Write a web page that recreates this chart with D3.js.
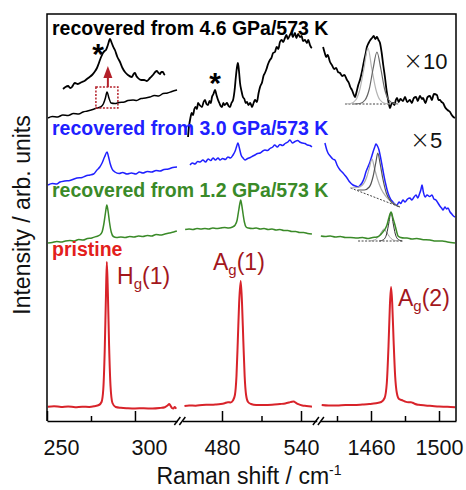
<!DOCTYPE html>
<html>
<head>
<meta charset="utf-8">
<script src="https://d3js.org/d3.v7.min.js"></script>
<style>
  body { margin: 0; background: #fff; }
  svg text { font-family: "Liberation Sans", Arial, sans-serif; }
</style>
</head>
<body>
<svg width="466" height="490"></svg>
<script>
// --- data: [wavenumber, intensity (arb.)] ---

// pristine
const red1 = [[250.5,14.3],[254,14.8],[258,14],[262,14.5],[266,13.8],[270,14.3],[274,14],[277,14.8],[279.5,16],[281,19],[282,32],[282.8,70],[283.5,125],[284,159],[284.6,128],[285.3,75],[286.1,35],[287.2,18],[289,14],[292,13.2],[296,12.8],[300,12.6],[305,12.7],[310,12.5],[314,13],[317,13.8],[318.5,15.5],[319.5,17],[320.3,15],[321,13],[321.8,12.5],[322.6,14],[323.4,12.3]];
const red2 = [[451.5,15],[455,15.5],[460,15.3],[465,16],[470,16.2],[475,16.5],[479,17],[482,17.8],[484.5,18.8],[486.5,18.5],[488.3,20.5],[489.8,26],[491,45],[492,80],[493,118],[494.2,140],[495.2,118],[496.2,80],[497.2,45],[498.3,26],[499.8,19],[502,17],[506,16],[512,16],[518,16.3],[524,17],[528,17.5],[531,18.5],[533,19.3],[534.5,19.5],[536,18.3],[538,16.8],[541,15.5],[544,15],[548.3,14.3]];
const red3 = [[1431,16],[1435,15.5],[1440,15.5],[1445,16],[1450,16],[1455,16.5],[1459,17],[1463,17.8],[1466,19],[1468,23],[1469.3,38],[1470.3,75],[1471.1,115],[1471.8,134],[1472.5,117],[1473.3,80],[1474.2,45],[1475.2,28],[1476.5,22],[1478,21],[1480,19.5],[1482,18.7],[1483.5,18.8],[1484.5,18.3],[1486,17],[1488,16.2],[1492,15.5],[1496,15],[1500,14.5],[1505,14.2],[1509.5,13.7]];

// recovered from 1.2 GPa
const green1 = [[250.6,178],[253,178.5],[255.5,179.5],[258,179],[260.5,180],[263,180.5],[265.5,180],[268,181.5],[270.5,181],[273,182.5],[275.5,183],[278,184.5],[280,186],[281.3,189],[282.4,198],[283.3,209],[284,216],[284.7,210],[285.5,199],[286.5,189],[287.7,184.5],[289.5,183.5],[292,184],[294.5,183.5],[297,184.5],[299.5,184],[302,185],[304.5,184.5],[307,185.5],[309.5,185],[312,186.5],[314.5,186],[317,187],[319.5,188],[322,189],[323.8,190]];
const green2 = [[452,191.5],[455,192],[458,191.5],[461,192.5],[464,192],[467,192.5],[470,192],[473,193],[476,192.5],[479,193],[482,193.5],[485,193],[488,194],[490,196],[491.5,201],[492.6,210],[493.5,217],[494.2,221],[495,216],[496,207],[497,199],[498.3,194],[500,193],[503,192.5],[506,193],[509,192],[512,192.5],[515,191.5],[518,192],[521,191],[524,191.5],[527,190.5],[530,190.5],[533,189.5],[536,189.5],[539,188.5],[542,188.5],[545,187.5],[548.3,187]];
const green3 = [[1430.5,185],[1433,184.5],[1436,185],[1439,184],[1442,184.5],[1445,183.5],[1448,183.5],[1451.8,183],[1455,183.5],[1458,182.5],[1461,183.5],[1463.5,184],[1465.5,186],[1467,189],[1468.3,192],[1469.4,196],[1470.5,203],[1471.8,209],[1472.9,203],[1474.1,196],[1475,190],[1475.9,185],[1477.5,183.5],[1479.5,183],[1481.2,183],[1484,182],[1487,182.5],[1490,181.5],[1494.7,181],[1498,180],[1502,180],[1505,179],[1509.4,178]];
const greenFitA = [[1459,180],[1462,181],[1464.5,184.5],[1466.2,189],[1467.6,192],[1469,189],[1470.8,184.5],[1473,181],[1476,180]];
const greenFitB = [[1465,180],[1467.5,181.5],[1469.2,187],[1470.5,198],[1471.8,209],[1473,198],[1474.3,187],[1476,181.5],[1478.5,180]];
const greenFitBase = [[1452.4,180],[1478.8,180]];

// recovered from 3.0 GPa (x5)
const blue1 = [[250.6,236],[253,237.5],[255.5,237],[257.4,239],[260,240],[263,240.5],[267,243],[270,243.5],[272,245],[274.4,246],[276.5,247],[278.4,251],[280,254],[281.3,258],[282.7,264],[284.1,269],[285,264],[285.8,258],[287,252],[288.6,249],[291,247.5],[293,248.5],[295.5,247],[298,248],[300.5,247],[302.5,249],[304.5,248],[307,249.5],[309.5,249],[312,250.5],[314.2,250],[316.5,251.5],[319,252],[321.5,253.5],[323.9,254]];
const blue2 = [[455.7,256],[457.5,258],[459.5,257],[461.5,259.5],[463.3,259],[465.5,261],[467.5,259],[469.5,262],[471.5,260.5],[473.2,263],[475,261],[477,263],[478.5,261],[480.5,262.5],[482.5,261.5],[484.5,264],[486.5,263],[488.4,266],[490,270],[491.2,275],[492.1,278],[493.2,273],[494.5,266],[496,263],[497.5,261],[499.5,262.5],[501.5,263.5],[503.5,265],[505,266],[507,267.5],[509,268],[511,270],[512.6,271],[514.5,270.5],[516.5,272.5],[518.5,274],[520,276],[522,274],[524,276.5],[526,275.5],[528,277.5],[530,279],[531.6,281],[533.5,278],[535.5,279.5],[537.5,280.5],[539,279],[541,278],[543,277.5],[545,276],[546.8,275.5],[548.3,274]];
const blue3 = [[1432.9,278],[1434,271],[1434.7,268],[1436,265],[1437.5,262],[1438.8,261],[1440,256],[1441.8,251],[1443,249],[1444.5,246],[1445.9,243],[1447.5,239],[1449.4,236],[1451,235],[1452.4,234],[1453.5,235.5],[1454.7,238],[1456,243],[1457,249],[1458.2,254],[1459.4,259],[1460.5,265],[1461.2,269],[1462.2,274],[1462.9,277],[1463.8,275],[1464.7,271],[1465.8,262],[1467,251],[1468.5,238],[1470,228],[1471.5,222],[1472.9,219],[1474,217],[1475.3,216],[1476.5,219],[1477.5,217.5],[1478.8,221],[1480,219],[1481.5,222],[1482.9,223],[1484,221],[1485.3,224],[1486.5,226],[1487.5,223],[1488.5,227],[1489.3,231],[1490,236],[1490.8,229],[1491.8,224],[1493,226],[1494.5,224.5],[1495.9,226],[1497,222],[1498.2,221],[1499.4,218],[1500.5,215],[1501.5,213],[1502.4,211],[1503.5,214],[1504.5,212],[1505.3,213],[1506.5,209],[1507.5,207],[1508.5,205],[1509.4,204]];
const blueFitA = [[1448,233],[1452,233.5],[1455,236],[1457.5,244],[1459,253],[1460.6,262],[1462,253],[1463.8,242],[1466,232],[1469,224],[1472,219],[1476,215]];
const blueFitB = [[1452,231],[1456,231],[1459,234],[1461.3,245],[1462.8,258],[1464,268],[1465.3,258],[1467,242],[1469,228],[1471.5,220],[1474.5,216],[1477,214]];
const blueFitBase = [[1448,233],[1477,214]];

// recovered from 4.6 GPa (x10)
const black1 = [[250.6,303],[253,304.5],[256,304],[259,306],[262,305.5],[265,307.5],[268,307],[270.5,309],[273,310],[276,311.5],[278.4,313],[280.5,314],[282,317],[283.2,323],[284.1,329],[285.2,323],[286.4,318],[288.6,317.5],[291,318.5],[294,319],[296,320.5],[298.9,321],[301,320.5],[303.5,322.5],[306,323],[308.5,324],[311,325.5],[313.5,325],[316,327.5],[318.5,328],[321,329.5],[323.9,331]];
const blackInset = [[259.1,332],[260.5,334],[262,335],[263.2,333],[264.2,334],[265.2,337],[265.9,338],[267.5,337],[269.9,339],[271.3,340],[272.7,342],[274.2,344],[275.6,346],[277,349],[278.4,353],[279.3,357],[280.1,361],[281,365],[281.8,368],[282.7,370],[283.5,371],[284.6,376],[285.8,382],[286.8,378],[287.7,374],[288.6,371],[290,364],[291.5,359],[292.9,353],[294.3,349],[296,346],[298.3,344],[299.2,347],[300,348],[300.8,345],[301.7,343],[303.5,341],[305.2,341],[306.8,340],[308.5,343],[310.2,346],[311.5,349],[312.5,350],[313.4,348],[314.2,347],[315,349],[315.9,349],[316.5,347],[317,346]];
const black2 = [[454.2,284],[455,295],[456,303],[457,308],[458,306],[459,312],[460,314],[461,312],[461.8,318],[463,316],[464.8,314],[466,319],[467.1,321],[468.2,317],[469.4,316],[470.5,320],[471.5,318],[472.4,324],[473.5,327],[474.7,331],[475.8,326],[477,321],[478,318],[479,315],[480,314],[481,318],[482,316],[483.8,318],[485,315],[486.1,314],[487.2,318],[488.4,321],[489.5,330],[490.6,345],[491.4,354],[492.1,358],[492.9,350],[493.7,338],[494.8,330],[495.9,324],[497,322],[498,318],[499,319],[500,316],[501.5,318],[502.8,314],[504,318],[505.1,321],[506.5,319],[507.8,328],[508.9,334],[510.5,339],[511.5,345],[512.6,348],[513.8,352],[515,357],[516.4,361],[517.5,363],[518.8,368],[520.2,369],[521.5,374],[522.8,372],[524,379],[525.2,381],[526.5,379],[527.8,383],[529,386],[530,382],[531.6,386],[532.7,388],[533.8,384],[535.4,388],[536.5,383],[537.8,387],[539.2,384],[540.5,385],[541.5,380],[543,381],[544.5,378],[545.5,381],[546.8,376],[547.5,374],[548.3,373]];
const black3 = [[1431.8,374],[1432.8,368],[1433.6,364],[1434.5,366],[1435.9,359],[1437,356],[1438.3,352],[1439.5,353],[1440.6,349],[1441.8,348],[1443,345],[1444.3,346],[1445.9,341],[1447,338],[1447.8,334],[1448.8,331],[1449.7,327],[1450.6,324],[1451.5,329],[1452.5,336],[1453.5,341],[1454.5,348],[1455.9,360],[1456.8,367],[1457.6,374],[1458.6,378],[1459.6,381],[1460.6,383],[1461.6,385],[1462.5,382],[1463.5,384],[1464.4,381],[1465.3,378],[1466.3,368],[1467.2,356],[1468.2,344],[1469.2,330],[1470.2,320],[1471.2,313],[1472,317],[1472.9,318],[1473.8,316],[1474.6,321],[1475.3,323],[1476.3,319],[1477.3,322],[1478.8,320],[1480,324],[1481.3,319],[1482.9,321],[1484,318],[1485.2,323],[1486.5,324],[1487.5,320],[1488.8,325],[1490,322],[1490.6,323],[1492,318],[1493.3,324],[1494.7,325],[1495.8,321],[1497,327],[1498.8,326],[1499.7,321],[1500.6,321],[1501.5,319],[1502.4,318],[1503.5,314],[1505,311],[1506.5,309],[1507.5,306],[1508.5,304],[1509.4,303]];
const blackFitA = [[1444.7,317],[1448,317.5],[1451,321],[1453.5,332],[1455.8,352],[1458.2,373],[1460.5,352],[1462.8,332],[1465.3,321],[1468.5,317.5],[1471.5,317]];
const blackFitB = [[1450,317],[1453.5,317.5],[1456.5,321],[1459,332],[1461.2,352],[1463.5,369],[1465.8,352],[1468,332],[1470.5,321],[1473.5,317.5],[1476,317]];
const blackFitBase = [[1444.7,317],[1471.2,317]];

// axis ticks
const major1 = [250, 300], minor1 = [275];
const major2 = [480, 540], minor2 = [510];
const major3 = [1460, 1500], minor3 = [1440, 1480];

// texts
const seriesLabels = ["recovered from 4.6 GPa/573 K", "recovered from 3.0 GPa/573 K", "recovered from 1.2 GPa/573 K", "pristine"];
const factors = ["10", "5"];

// --- drawing ---
const svg = d3.select("svg");
const L = 47, R = 456, T = 14, B = 421;

const x1 = d3.scaleLinear().domain([250, 324]).range([47, 177.2]);
const x2 = d3.scaleLinear().domain([450, 552]).range([182.5, 316.8]);
const x3 = d3.scaleLinear().domain([1430, 1510]).range([320, 456]);
const y = d3.scaleLinear().domain([0, 407]).range([B, T]);

function spectrum(data, xs, color, w, dash) {
    let line = d3.line()
        .x(d => xs(d[0]))
        .y(d => y(d[1]))
        .curve(d3.curveMonotoneX);
    svg.append("path")
        .attr("d", line(data))
        .attr("fill", "none")
        .attr("stroke", color)
        .attr("stroke-width", w)
        .attr("stroke-linejoin", "round")
        .attr("stroke-dasharray", dash || null);
}

const cRed = "#d8232a", cBlue = "#2020ff", cGreen = "#3a8a28", cDark = "#a3171c";

spectrum(red1, x1, cRed, 2);
spectrum(red2, x2, cRed, 2);
spectrum(red3, x3, cRed, 2);

spectrum(greenFitBase, x3, "#444", 1, "2,1.5");
spectrum(greenFitA, x3, "#999", 1);
spectrum(greenFitB, x3, "#333", 1);
spectrum(green1, x1, cGreen, 1.5);
spectrum(green2, x2, cGreen, 1.5);
spectrum(green3, x3, cGreen, 1.5);

spectrum(blue1, x1, cBlue, 1.5);
spectrum(blue2, x2, cBlue, 1.5);
spectrum(blue3, x3, cBlue, 1.5);
spectrum(blueFitBase, x3, "#444", 1, "2,1.5");
spectrum(blueFitA, x3, "#aaa", 1.2);
spectrum(blueFitB, x3, "#555", 1.2);

spectrum(black1, x1, "#000", 1.5);
spectrum(blackInset, x1, "#000", 1.8);
spectrum(black2, x2, "#000", 1.8);
spectrum(black3, x3, "#000", 1.8);
spectrum(blackFitBase, x3, "#444", 1, "2,1.5");
spectrum(blackFitA, x3, "#b5b5b5", 1.2);
spectrum(blackFitB, x3, "#666", 1.2);

// dotted box + arrow on the small peak
svg.append("rect")
    .attr("x", x1(277.8)).attr("y", y(334))
    .attr("width", x1(290.3) - x1(277.8)).attr("height", y(313) - y(334))
    .attr("fill", "none").attr("stroke", "#b3202a")
    .attr("stroke-width", 1.5).attr("stroke-dasharray", "2,1.5");
const ax = x1(284.6);
svg.append("line")
    .attr("x1", ax).attr("x2", ax)
    .attr("y1", y(334)).attr("y2", y(346))
    .attr("stroke", "#b3202a").attr("stroke-width", 2);
svg.append("path")
    .attr("d", `M${ax},${y(355)} L${ax - 4.5},${y(343)} L${ax + 4.5},${y(343)} Z`)
    .attr("fill", "#b3202a");

// asterisks
svg.append("text").attr("x", x1(279)).attr("y", y(374) + 17)
    .attr("text-anchor", "middle").attr("font-size", 30).attr("font-weight", "bold").text("*");
svg.append("text").attr("x", x2(474.7)).attr("y", y(345) + 17)
    .attr("text-anchor", "middle").attr("font-size", 30).attr("font-weight", "bold").text("*");

// frame
svg.append("path")
    .attr("d", `M${L},${B} V${T} H${R} V${B}`)
    .attr("fill", "none").attr("stroke", "#000").attr("stroke-width", 1.5);

// axes per segment
function segAxis(xs, major, minor, dx) {
    let gMaj = svg.append("g").attr("transform", `translate(0,${B})`)
        .call(d3.axisBottom(xs).tickValues(major).tickSize(-10).tickSizeOuter(0).tickFormat(d3.format("d")));
    let gMin = svg.append("g").attr("transform", `translate(0,${B})`)
        .call(d3.axisBottom(xs).tickValues(minor).tickSize(-5).tickSizeOuter(0).tickFormat(""));
    gMin.select(".domain").remove();
    [gMaj, gMin].forEach(g => {
        g.selectAll("line").attr("stroke-width", 1.5);
        g.select(".domain").attr("stroke-width", 1.5);
    });
    gMaj.selectAll("text")
        .attr("y", 34).attr("dy", null).attr("dx", dx)
        .attr("font-size", 21.5)
        .style("font-family", '"Liberation Sans", Arial, sans-serif')
        .attr("fill", "#111");
}
segAxis(x1, major1, minor1, 14);
segAxis(x2, major2, minor2, 0);
segAxis(x3, major3, minor3, 0);

// break marks
[(x1.range()[1] + x2.range()[0]) / 2, (x2.range()[1] + x3.range()[0]) / 2].forEach(c => {
    [-2.5, 2.5].forEach(o => {
        svg.append("line")
            .attr("x1", c + o - 3).attr("y1", B + 4)
            .attr("x2", c + o + 3).attr("y2", B - 4)
            .attr("stroke", "#000").attr("stroke-width", 1.5);
    });
});

// axis titles
svg.append("text").attr("x", 249).attr("y", 484).attr("text-anchor", "middle")
    .attr("font-size", 23).attr("fill", "#111")
    .text("Raman shift / cm")
    .append("tspan").attr("dy", -9).attr("font-size", 14).text("-1");
svg.append("text")
    .attr("transform", "translate(30,215) rotate(-90)")
    .attr("text-anchor", "middle").attr("font-size", 23).attr("fill", "#111")
    .text("Intensity / arb. units");

// series labels
const labelColors = ["#000", cBlue, cGreen, "#e3201b"];
const labelY = [35, 135, 197, 256];
seriesLabels.forEach((s, i) => {
    svg.append("text").attr("x", 52).attr("y", labelY[i])
        .attr("font-size", 19.5).attr("font-weight", "bold")
        .attr("fill", labelColors[i]).text(s);
});

// multipliers
[[403, 69], [410, 148]].forEach((p, i) => {
    let t = svg.append("text").attr("x", p[0]).attr("y", p[1]).attr("font-size", 22).attr("fill", "#111");
    t.append("tspan").attr("font-size", 24).style("font-family", '"DejaVu Sans", sans-serif')
        .attr("font-weight", 200).text("\u00d7");
    t.append("tspan").text(factors[i]);
});

// peak assignments
function peakLabel(px, py, sym, sub, num) {
    let t = svg.append("text").attr("x", px).attr("y", py).attr("font-size", 23).attr("fill", cDark);
    t.append("tspan").text(sym);
    t.append("tspan").attr("font-size", 15).attr("dy", 5).text(sub);
    t.append("tspan").attr("dy", -5).text("(" + num + ")");
}
peakLabel(117, 284, "H", "g", 1);
peakLabel(213, 270, "A", "g", 1);
peakLabel(398, 306, "A", "g", 2);
</script>
</body>
</html>
